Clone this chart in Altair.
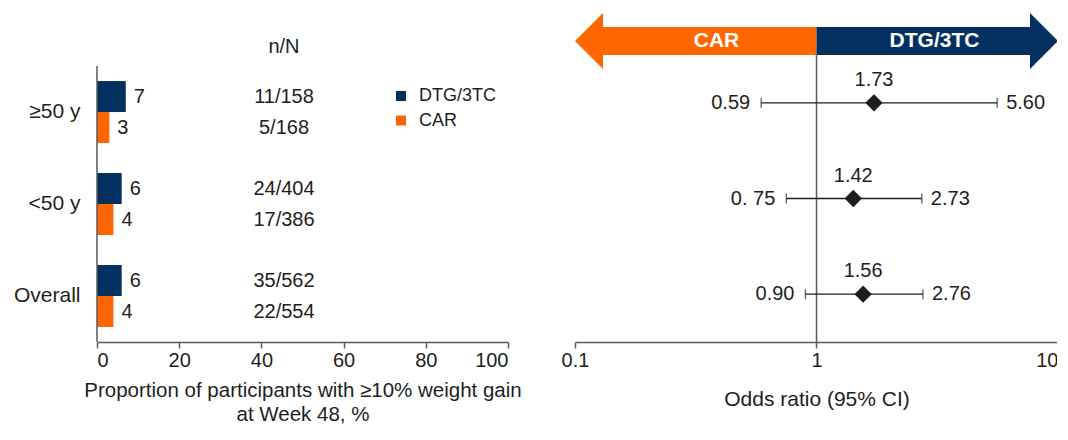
import altair as alt
import pandas as pd

# ---------------- data ----------------
groups = ["≥50 y", "<50 y", "Overall"]
arms = ["DTG/3TC", "CAR"]
pct_dtg = [7, 6, 6]
pct_car = [3, 4, 4]
nn_dtg = ["11/158", "24/404", "35/562"]
nn_car = ["5/168", "17/386", "22/554"]

or_est = [1.73, 1.42, 1.56]
or_lo = [0.59, 0.75, 0.90]
or_hi = [5.60, 2.73, 2.76]
or_est_lbl = ["1.73", "1.42", "1.56"]
or_lo_lbl = ["0.59", "0. 75", "0.90"]
or_hi_lbl = ["5.60", "2.73", "2.76"]

x_left_ticks = [0, 20, 40, 60, 80, 100]
x_right_ticks = [0.1, 1, 10]

NAVY = "#03305F"
ORANGE = "#FF6600"
TXT = "#1e1e1e"
AXC = "#5a5a5a"
FONT = "Liberation Sans"

rows = []
for i, g in enumerate(groups):
    rows.append({"group": g, "arm": arms[0], "pct": pct_dtg[i], "nn": nn_dtg[i]})
    rows.append({"group": g, "arm": arms[1], "pct": pct_car[i], "nn": nn_car[i]})
bars_df = pd.DataFrame(rows)

forest_df = pd.DataFrame({
    "group": groups, "est": or_est, "lo": or_lo, "hi": or_hi,
    "est_lbl": or_est_lbl, "lo_lbl": or_lo_lbl, "hi_lbl": or_hi_lbl,
})

# ---------------- left panel ----------------
y_left = alt.Y(
    "group:N", sort=groups,
    scale=alt.Scale(domain=groups, paddingInner=0, paddingOuter=0.06, align=1),
    axis=alt.Axis(title=None, ticks=False, domain=False, labelFontSize=21,
                  labelPadding=17, labelColor=TXT, labelFont=FONT),
)
y_off = alt.YOffset("arm:N", sort=arms,
                    scale=alt.Scale(domain=arms, paddingInner=0, paddingOuter=0.484))
x_left = alt.X(
    "pct:Q", scale=alt.Scale(domain=[0, 100], nice=False),
    axis=alt.Axis(values=x_left_ticks, title=["Proportion of participants with ≥10% weight gain",
                                              "at Week 48, %"],
                  labelFontSize=20, titleFontSize=20.5, titleFontWeight="normal",
                  titlePadding=10, titleLineHeight=24, tickSize=6, grid=False),
)
color = alt.Color(
    "arm:N", sort=arms, scale=alt.Scale(domain=arms, range=[NAVY, ORANGE]),
    legend=alt.Legend(title=None, orient="none", legendX=295, legendY=32,
                      symbolType="square", symbolSize=100, labelFontSize=18,
                      labelOffset=9, rowPadding=6.5, padding=0, labelColor=TXT,
                      labelFont=FONT, symbolStrokeWidth=0),
)

base_l = alt.Chart(bars_df)
bars = base_l.mark_bar(strokeWidth=0).encode(x=x_left, y=y_left, yOffset=y_off, color=color)
vals = base_l.mark_text(align="left", baseline="middle", dx=8, fontSize=20, color=TXT).encode(
    x="pct:Q", y=alt.Y("group:N", sort=groups), yOffset=alt.YOffset("arm:N", sort=arms), text="pct:Q")
nn = base_l.mark_text(align="center", baseline="middle", fontSize=20, color=TXT).encode(
    x=alt.datum(45.5), y=alt.Y("group:N", sort=groups), yOffset=alt.YOffset("arm:N", sort=arms), text="nn:N")
header = alt.Chart(pd.DataFrame({"t": ["n/N"]})).mark_text(
    align="center", baseline="middle", fontSize=20, color=TXT).encode(
    x=alt.datum(45.5), y=alt.value(-8), text="t:N")
yline = alt.Chart(pd.DataFrame({"a": [0]})).mark_rule(color=AXC, strokeWidth=1.5).encode(
    x=alt.datum(0), y=alt.value(11), y2=alt.value(287))

left = alt.layer(bars, vals, nn, header, yline).properties(width=411, height=287)

# ---------------- right panel ----------------
y_right = alt.Y("group:N", sort=groups,
                scale=alt.Scale(domain=groups, paddingInner=0, paddingOuter=0), axis=None)
x_right = alt.X(
    "est:Q", scale=alt.Scale(type="log", domain=[0.1, 10], nice=False),
    axis=alt.Axis(values=x_right_ticks, format="~g", title="Odds ratio (95% CI)",
                  labelFontSize=20, titleFontSize=21, titleFontWeight="normal",
                  titlePadding=18, tickSize=6, grid=False,
                  labelAlign={"condition": {"test": "datum.value == 10", "value": "right"},
                              "value": "center"}),
)
base_r = alt.Chart(forest_df)
refline = alt.Chart(pd.DataFrame({"a": [1]})).mark_rule(color=AXC, strokeWidth=1.5).encode(
    x=alt.datum(1))
ci = base_r.mark_rule(color=TXT, strokeWidth=1.3).encode(x=alt.X("lo:Q"), x2="hi:Q", y=y_right)
cap_lo = base_r.mark_tick(color=TXT, size=10, thickness=1.3, orient="vertical").encode(
    x="lo:Q", y=y_right)
cap_hi = base_r.mark_tick(color=TXT, size=10, thickness=1.3, orient="vertical").encode(
    x="hi:Q", y=y_right)
diamond = base_r.mark_point(shape="diamond", filled=True, size=300, color=TXT, opacity=1).encode(
    x=x_right, y=y_right)
lbl_est = base_r.mark_text(align="center", baseline="middle", dy=-23, fontSize=20, color=TXT).encode(
    x="est:Q", y=y_right, text="est_lbl:N")
lbl_lo = base_r.mark_text(align="right", baseline="middle", dx=-11, fontSize=20, color=TXT).encode(
    x="lo:Q", y=y_right, text="lo_lbl:N")
lbl_hi = base_r.mark_text(align="left", baseline="middle", dx=9, fontSize=20, color=TXT).encode(
    x="hi:Q", y=y_right, text="hi_lbl:N")

one = pd.DataFrame({"a": [0]})
body_car = alt.Chart(one).mark_rect(color=ORANGE, xOffset=28).encode(
    x=alt.datum(0.1), x2=alt.datum(1), y=alt.value(-28), y2=alt.value(0))
body_dtg = alt.Chart(one).mark_rect(color=NAVY, x2Offset=-28).encode(
    x=alt.datum(1), x2=alt.datum(10), y=alt.value(-28), y2=alt.value(0))
head_car = alt.Chart(one).mark_point(shape="M0,0L1,-1L1,1Z", filled=True, size=3136,
                                     color=ORANGE, opacity=1, strokeWidth=0).encode(
    x=alt.datum(0.1), y=alt.value(-14))
head_dtg = alt.Chart(one).mark_point(shape="M0,0L-1,-1L-1,1Z", filled=True, size=3136,
                                     color=NAVY, opacity=1, strokeWidth=0).encode(
    x=alt.datum(10), y=alt.value(-14))
txt_car = alt.Chart(pd.DataFrame({"t": ["CAR"]})).mark_text(
    align="center", baseline="middle", dx=-100, fontSize=21, fontWeight="bold", color="white").encode(
    x=alt.datum(1), y=alt.value(-14), text="t:N")
txt_dtg = alt.Chart(pd.DataFrame({"t": ["DTG/3TC"]})).mark_text(
    align="center", baseline="middle", dx=118, fontSize=21, fontWeight="bold", color="white").encode(
    x=alt.datum(1), y=alt.value(-14), text="t:N")

right = alt.layer(diamond, refline, ci, cap_lo, cap_hi, lbl_est, lbl_lo, lbl_hi,
                  body_car, body_dtg, head_car, head_dtg, txt_car, txt_dtg).properties(
    width=483, height=287)

chart = alt.hconcat(left, right, spacing=67).properties(
    bounds="flush",
    padding={"left": 5, "top": 5, "right": -2, "bottom": 0},
).configure(font=FONT).configure_view(stroke=None).configure_axis(
    domainColor=AXC, tickColor=AXC, labelColor=TXT, titleColor=TXT, domainWidth=1.5,
    tickWidth=1.5, labelFont=FONT, titleFont=FONT)

chart.save("out.html", embed_options={"renderer": "svg", "actions": False})
